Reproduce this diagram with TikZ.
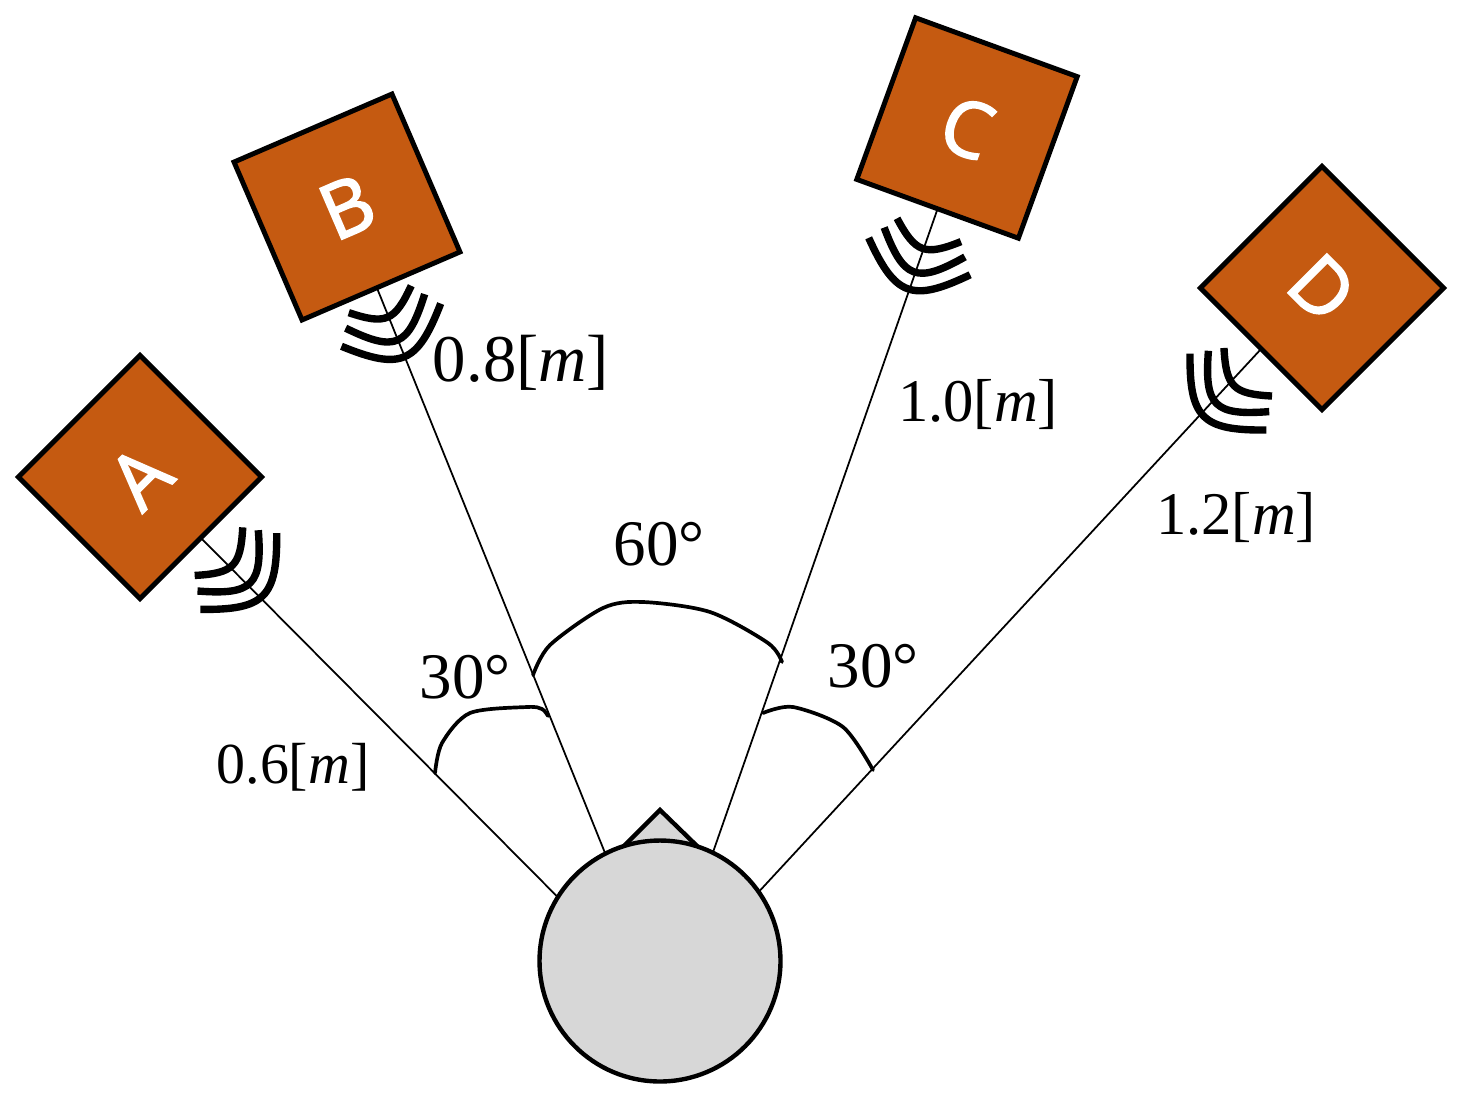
\documentclass[tikz,border=0pt]{standalone}
\usepackage{fontspec}
\newfontfamily\boxfont[FakeBold=2.2]{Open Sans}
\newfontfamily\labelfont{Liberation Serif}
\definecolor{boxbrown}{HTML}{C55A11}
\definecolor{headgray}{HTML}{D7D7D7}
\tikzset{
    boxnode/.style={draw=black,fill=boxbrown,line width=2.8pt,minimum size=3.44cm,inner sep=0pt,outer sep=0pt,text=white,font=\boxfont\fontsize{44}{48}\selectfont},
    headnode/.style={circle,draw=black,fill=headgray,line width=2.5pt,minimum size=4.82cm,inner sep=0pt,outer sep=0pt},
    linkline/.style={line width=1pt},
    anglearc/.style={line width=2.1pt,line cap=round},
    waveline/.style={line width=4.2pt},
    textlabel/.style={inner sep=0pt,font=\labelfont\fontsize{#1}{#1}\selectfont}
}
\newcommand{\myBox}[4]{
    \node[boxnode,rotate=#3] (box#4) at (#1,#2) {#4};
}
\newcommand{\myWave}[3]{
    \begin{scope}[shift={(#1,#2)},rotate=#3]
      \draw[waveline] (-34,0) .. controls (-5,26) and (5,26) .. (34,0);
      \draw[waveline] (-43,13) .. controls (-7,55) and (7,55) .. (43,13);
      \draw[waveline] (-54,28) .. controls (-9,74) and (9,74) .. (54,28);
    \end{scope}
}
\begin{document}
\begin{tikzpicture}[x=0.02cm,y=-0.02cm]
      \useasboundingbox (0,0) rectangle (1462,1109);

      \draw[headnode,rectangle,minimum size=0pt] (625,845) -- (660,810) -- (696,845) -- cycle;
      \node[headnode] (head) at (660,961) {};

      \myBox{140}{477}{45}{A}
      \myBox{347}{207}{23.3}{B}
      \myBox{967}{128}{-20}{C}
      \myBox{1322}{288}{-45}{D}

      \draw[linkline] (head.148) -- (boxA.south);
      \draw[linkline] (head.117) -- (boxB.267);
      \draw[linkline] (head.64) -- (boxC.south);
      \draw[linkline] (head.35.4) -- (boxD.south);

      \myWave{218.7}{551.4}{45}
      \myWave{380}{299.2}{23.3}
      \myWave{929}{230}{-20}
      \myWave{1248}{372}{-45}

      % angles
      \draw[anglearc] plot[smooth] coordinates {(435,773) (442,743) (470,713) (527,707) (542,709) (548,716)};
      \draw[anglearc] plot[smooth] coordinates {(533,675) (550,645) (603,608) (643,602) (710,612) (768,643) (782,662)};
      \draw[anglearc] plot[smooth] coordinates {(763,713) (793,707) (843,727) (873,770)};

      \node[textlabel=33] (distA) at (293,767) {0.6[\textit{m}]};
      \node[textlabel=38] (distB) at (521,363) {0.8[\textit{m}]};
      \node[textlabel=34.5] (distC) at (978,405) {1.0[\textit{m}]};
      \node[textlabel=34.5] (distD) at (1236,518) {1.2[\textit{m}]};
      \node[textlabel=37] (angleAB) at (465,677) {30°};
      \node[textlabel=37] (angleBC) at (659,544) {60°};
      \node[textlabel=37] (angleCD) at (873,666) {30°};
\end{tikzpicture}
\end{document}
